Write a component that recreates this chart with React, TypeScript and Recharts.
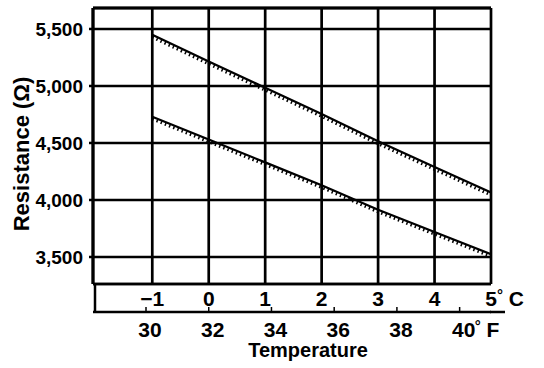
import { CartesianGrid, Line, LineChart, ReferenceLine, XAxis, YAxis } from 'recharts';

const FONT = '"Liberation Sans", Arial, sans-serif';
const INK = '#000';

// temperature in °C along the bottom
const CELSIUS = [-1, 0, 1, 2, 3, 4, 5];
const C_TICKS = [-1, 0, 1, 2, 3, 4, 5];
const F_TICKS = [30, 32, 34, 36, 38, 40];
const Y_TICKS = [3500, 4000, 4500, 5000, 5500];

// resistance in ohms
const UPPER = [5450, 5215, 4985, 4755, 4515, 4290, 4065];
const UPPER_HATCH = [5428, 5193, 4963, 4733, 4493, 4268, 4043];
const LOWER = [4730, 4530, 4330, 4130, 3915, 3720, 3525];
const LOWER_HATCH = [4710, 4510, 4310, 4110, 3895, 3700, 3505];

const X_DOMAIN: [number, number] = [-2.05, 5];
const Y_DOMAIN: [number, number] = [3263, 5684];

const toC = (f: number) => ((f - 32) * 5) / 9;
const toF = (c: number) => Math.round((c * 9) / 5 + 32);

const data = CELSIUS.map((c, i) => ({
  c,
  upper: UPPER[i],
  upperHatch: UPPER_HATCH[i],
  lower: LOWER[i],
  lowerHatch: LOWER_HATCH[i],
}));

const textStyle = { fontFamily: FONT, fontSize: 21, fontWeight: 700, fill: INK };

function CTick({ x, y, payload }: any) {
  const v = payload.value;
  return (
    <g>
      <text x={x} y={y + 22} textAnchor="middle" {...textStyle}>
        {v < 0 ? `\u2212${-v}` : v}
      </text>
      {v === 5 && (
        <text x={x + 6} y={y + 22} {...textStyle}>
          <tspan fontSize={15} dy={-6}>°</tspan>
          <tspan dy={6}> C</tspan>
        </text>
      )}
    </g>
  );
}

function FTick({ x, y, payload }: any) {
  const f = toF(payload.value);
  return (
    <g>
      <line x1={x} x2={x} y1={y - 5} y2={y} stroke={INK} strokeWidth={1.5} />
      <text x={x + 4} y={y + 25} textAnchor="middle" {...textStyle}>
        {f}
      </text>
      {f === 40 && (
        <text x={x + 15} y={y + 25} {...textStyle}>
          <tspan fontSize={15} dy={-6}>°</tspan>
          <tspan dy={6}> F</tspan>
        </text>
      )}
    </g>
  );
}

export default function App() {
  return (
    <div style={{ position: 'absolute', left: 0, top: 0, background: '#fff' }}>
      <LineChart
        width={544}
        height={368}
        data={data}
        margin={{ top: 8, right: 53, left: 0, bottom: 0 }}
      >
        <CartesianGrid xAxisId="c" stroke={INK} strokeWidth={2.7} strokeOpacity={1} />
        <XAxis
          xAxisId="c"
          dataKey="c"
          type="number"
          domain={X_DOMAIN}
          ticks={C_TICKS}
          allowDataOverflow
          height={28}
          tickSize={0}
          tickMargin={0}
          tickLine={false}
          axisLine={{ stroke: INK, strokeWidth: 2.5 }}
          tick={<CTick />}
          interval={0}
        />
        <XAxis
          xAxisId="f"
          dataKey="c"
          type="number"
          domain={X_DOMAIN}
          ticks={F_TICKS.map(toC)}
          allowDataOverflow
          height={56}
          tickSize={0}
          tickMargin={0}
          tickLine={false}
          axisLine={{ stroke: INK, strokeWidth: 2.5 }}
          tick={<FTick />}
          interval={0}
          label={{
            value: 'Temperature',
            position: 'insideBottom',
            offset: 11,
            dx: 16,
            style: { ...textStyle, fontSize: 20 },
          }}
        />
        <YAxis
          type="number"
          domain={Y_DOMAIN}
          ticks={Y_TICKS}
          allowDataOverflow
          width={93}
          tickSize={4}
          tickMargin={6}
          tickLine={{ stroke: INK, strokeWidth: 2.5 }}
          axisLine={{ stroke: INK, strokeWidth: 3 }}
          tickFormatter={(v: number) => v.toLocaleString('en-US')}
          tick={{ ...textStyle, fontSize: 19 }}
          interval={0}
          label={{
            value: 'Resistance (Ω)',
            angle: -90,
            position: 'insideLeft',
            offset: 21,
            dy: 8,
            style: { ...textStyle, fontSize: 22, textAnchor: 'middle' },
          }}
        />
        <ReferenceLine xAxisId="c" y={Y_DOMAIN[1]} stroke={INK} strokeWidth={3} />
        <Line xAxisId="c" dataKey="upperHatch" stroke={INK} strokeWidth={3} strokeDasharray="1.5 3" dot={false} isAnimationActive={false} />
        <Line xAxisId="c" dataKey="lowerHatch" stroke={INK} strokeWidth={3} strokeDasharray="1.5 3" dot={false} isAnimationActive={false} />
        <Line xAxisId="c" dataKey="upper" stroke={INK} strokeWidth={2.2} dot={false} isAnimationActive={false} />
        <Line xAxisId="c" dataKey="lower" stroke={INK} strokeWidth={2.2} dot={false} isAnimationActive={false} />
        {/* lower scale box: left edge and the longer °F rule */}
        <line x1={95} x2={95} y1={284} y2={313} stroke={INK} strokeWidth={2.5} />
        <line x1={490} x2={505} y1={312} y2={312} stroke={INK} strokeWidth={2.5} />
      </LineChart>
    </div>
  );
}
